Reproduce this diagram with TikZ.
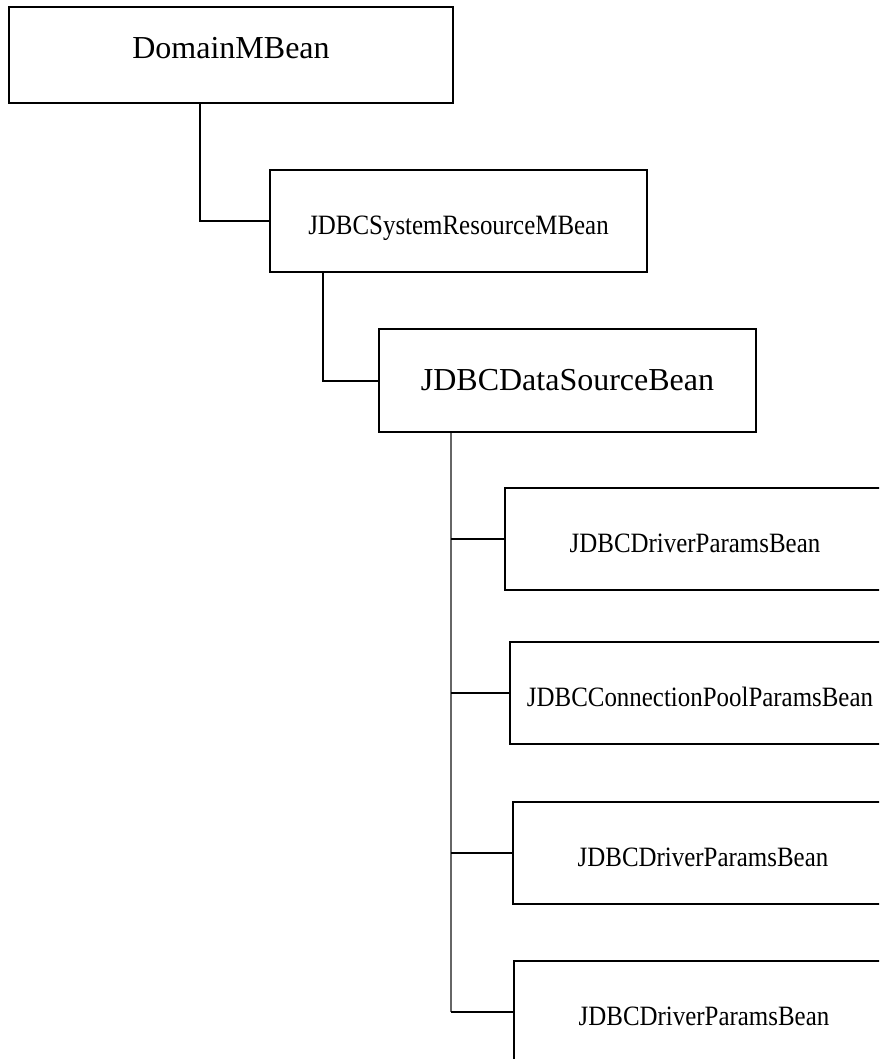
\documentclass[tikz,border=0pt]{standalone}
\usepackage{fontspec}
\setmainfont{Liberation Serif}
\newfontfamily\condfont[FakeStretch=0.89]{Liberation Serif}
\usetikzlibrary{calc,positioning}
\tikzset{
	% bean box
	box/.style={
		rectangle,
		draw=black, line width=2pt,
		anchor=north west,
		minimum width=377,
		minimum height=102
	},
	% child bean box
	child box/.style={
		box,
		minimum width=380,
		text height=27, text depth=0,
		font=\condfont\fontsize{28}{32}\selectfont
	},
	% elbow connector
	branch/.style={
		draw=black, line width=2pt
	},
	% shared vertical line
	trunk/.style={
		draw=black!60, line width=1.2pt
	}
}

\begin{document}
\begin{tikzpicture}[x=1pt, y=-1pt]
	\useasboundingbox (0,0) rectangle (879,1059);
	\clip (0,0) rectangle (879,1059);

	\node[box, minimum width=444, minimum height=96, text depth=14,
		font=\fontsize{32}{36}\selectfont] (domain) at (8,6)
		{DomainMBean};
	\node[box, text height=32, text depth=6,
		font=\condfont\fontsize{28}{32}\selectfont] (sysres) at (269,169)
		{JDBCSystemResourceMBean};
	\node[box, minimum height=103,
		font=\fontsize{32}{36}\selectfont] (dsrc) at (378,328)
		{JDBCDataSourceBean};

	\node[child box] (drv1) at (504,487) {JDBCDriverParamsBean};
	\node[child box] (pool) at (509,641) {JDBCConnectionPoolParamsBean};
	\node[child box] (drv2) at (512,801) {JDBCDriverParamsBean};
	\node[child box] (drv3) at (513,960) {JDBCDriverParamsBean};

	\draw[branch] ($(domain.south west)+(192,0)$) |- (sysres.west);
	\draw[branch] ($(sysres.south west)+(54,0)$) |- (dsrc.west);

	\coordinate (top) at ($(dsrc.south west)+(73,0)$);
	\draw[trunk] (top) -- (top |- drv3.west);
	\foreach \c in {drv1,pool,drv2,drv3}
		\draw[branch] (top |- \c.west) -- (\c.west);
\end{tikzpicture}
\end{document}
